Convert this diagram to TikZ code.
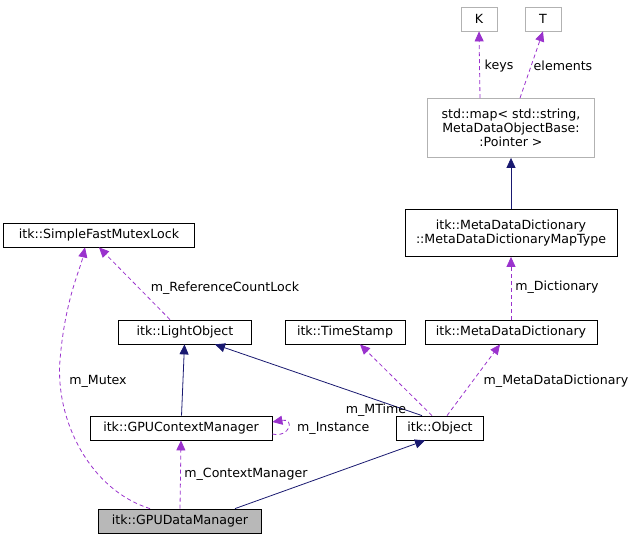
\documentclass[tikz,border=0pt]{standalone}
\usepackage{fontspec}
\setmainfont{DejaVu Sans}
\usetikzlibrary{arrows.meta}
\definecolor{pur}{HTML}{9A32CD}
\definecolor{nav}{HTML}{191970}
\begin{document}
\begin{tikzpicture}[x=1pt,y=-1pt,
  box/.style={draw=black,fill=white,font=\fontsize{12.6}{14}\selectfont,inner sep=0pt,minimum height=24pt,align=center,line width=0.8pt},
  gbox/.style={box,draw=black!30},
  dep/.style={color=pur,line width=0.8pt,dash pattern=on 4pt off 3pt,-{Triangle[length=10pt,width=9pt]}},
  inh/.style={color=nav,line width=0.8pt,-{Triangle[length=10pt,width=9pt]}},
  lbl/.style={font=\fontsize{12.6}{14}\selectfont,inner sep=1pt,text=black}]
\useasboundingbox (0,0) rectangle (636,541);
\node[gbox,minimum width=36pt] (K) at (479,19) {K};
\node[gbox,minimum width=36pt] (T) at (543,19) {T};
\node[gbox,minimum width=167pt,minimum height=59pt] (map) at (511,128) {std::map< std::string,\\ MetaDataObjectBase:\\ :Pointer >};
\node[box,minimum width=212pt,minimum height=47pt] (mt) at (511,233) {itk::MetaDataDictionary\\ ::MetaDataDictionaryMapType};
\node[box,minimum width=191pt] (mx) at (99,235) {itk::SimpleFastMutexLock};
\node[box,minimum width=133pt] (lo) at (185,332) {itk::LightObject};
\node[box,minimum width=120pt] (ts) at (345,332) {itk::TimeStamp};
\node[box,minimum width=172pt] (md) at (511,332) {itk::MetaDataDictionary};
\node[box,minimum width=182pt] (cm) at (181,428) {itk::GPUContextManager};
\node[box,minimum width=87pt] (ob) at (440,428) {itk::Object};
\node[box,fill=black!28,minimum width=163pt] (dm) at (180,521) {itk::GPUDataManager};

\draw[dep] (map.north -| 480,0) -- (K.south);
\node[lbl] at (499,66) {keys};
\draw[dep] (map.north -| 520,0) -- (T.south);
\node[lbl] at (563,66) {elements};
\draw[inh] (mt) -- (map);
\draw[dep] (md) -- (mt);
\node[lbl] at (557,287) {m\_Dictionary};
\draw[dep] (lo.north -| 170,0) -- (mx.south);
\node[lbl] at (225,288) {m\_ReferenceCountLock};
\draw[dep] (dm.north -| 150,0) .. controls (90,490) and (55,420) .. (60,360) .. controls (65,300) and (80,270) .. (mx.south -| 85,0) ;
\node[lbl] at (98,381) {m\_Mutex};
\draw[inh] (cm) -- (lo);
\draw[inh] (ob.north -| 422,0) -- (lo.south -| 215,0);
\draw[dep] (ob.north -| 432,0) -- (ts.south -| 360,0);
\node[lbl] at (376,410) {m\_MTime};
\draw[dep] (ob.north -| 447,0) -- (md.south -| 500,0);
\node[lbl] at (556,381) {m\_MetaDataDictionary};
\draw[dep] (cm.east |- 0,434) .. controls (290,438) and (295,418) .. (cm.east |- 0,422);
\node[lbl,anchor=west] at (296,428) {m\_Instance};
\draw[dep] (dm.north -| 180,0) -- (cm.south);
\node[lbl] at (246,474) {m\_ContextManager};
\draw[inh] (dm.north -| 235,0) -- (ob.south -| 425,0);
\end{tikzpicture}
\end{document}
